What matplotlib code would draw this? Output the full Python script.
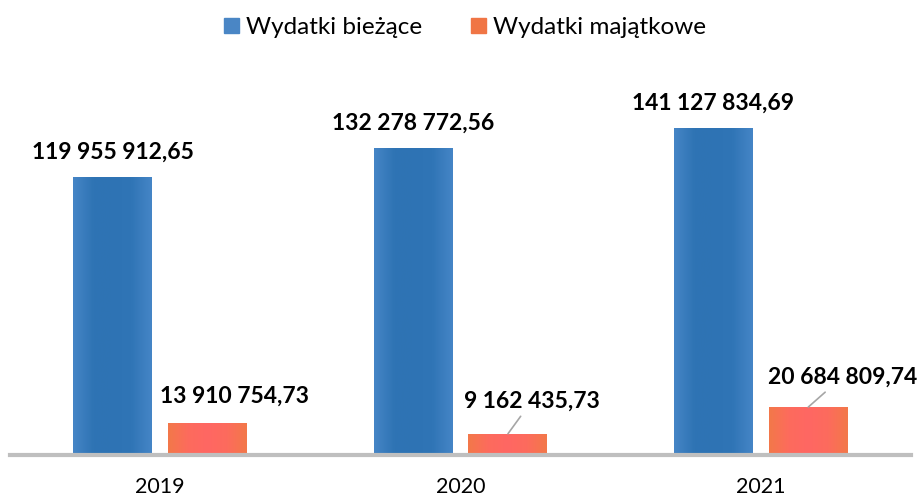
import numpy as np
import matplotlib
matplotlib.use("Agg")
import matplotlib.pyplot as plt
from matplotlib.colors import LinearSegmentedColormap
from matplotlib.patches import Patch

plt.rcParams['font.family'] = ['Lato', 'DejaVu Sans']

years = ['2019', '2020', '2021']
biezace = [119955912.65, 132278772.56, 141127834.69]
majatkowe = [13910754.73, 9162435.73, 20684809.74]
labels_b = ['119 955 912,65', '132 278 772,56', '141 127 834,69']
labels_m = ['13 910 754,73', '9 162 435,73', '20 684 809,74']
series_names = ['Wydatki bieżące', 'Wydatki majątkowe']

# label offsets for orange bars (pixels), leader line or not
off_m = [(27, 27), (24, 33), (34, 30)]
leader_m = [False, True, True]

fig = plt.figure(figsize=(9.21, 4.97), dpi=100)
ax = fig.add_axes([10 / 921, 42 / 497, 901 / 921, 394 / 497])

x = np.arange(len(years))
w = 0.263
d = 0.158

blue_cmap = LinearSegmentedColormap.from_list('b', ['#4585C6', '#2F74B4', '#2E73B4', '#3075B6', '#4585C6'])
orng_cmap = LinearSegmentedColormap.from_list('o', ['#F3784A', '#FD6B5D', '#FF6763', '#FD6B5D', '#F3784A'])

bars_b = ax.bar(x - d, biezace, w, color='#2E74B5', linewidth=0)
bars_m = ax.bar(x + d, majatkowe, w, color='#FB6E58', linewidth=0)

grad = np.linspace(0, 1, 64).reshape(1, -1)
for bars, cm in [(bars_b, blue_cmap), (bars_m, orng_cmap)]:
    for b in bars:
        x0, y0 = b.get_x(), b.get_y()
        im = ax.imshow(grad, cmap=cm, aspect='auto', interpolation='bicubic',
                       extent=[x0, x0 + b.get_width(), y0, y0 + b.get_height()], zorder=2)
        im.set_clip_path(b)

ax.set_xlim(-0.5, 2.5)
ax.set_ylim(0, 170e6)

for i, b in enumerate(bars_b):
    ax.annotate(labels_b[i], (b.get_x() + b.get_width() / 2, b.get_height()),
                xytext=(0, 25), textcoords='offset pixels', ha='center', va='center',
                fontsize=16.5, fontweight='bold', color='#000000')

for i, b in enumerate(bars_m):
    arrow = dict(arrowstyle='-', color='#A6A6A6', lw=1.2, shrinkA=2, shrinkB=0) if leader_m[i] else None
    ax.annotate(labels_m[i], (b.get_x() + b.get_width() / 2, b.get_height()),
                xytext=off_m[i], textcoords='offset pixels', ha='center', va='center',
                fontsize=16.5, fontweight='bold', color='#000000', arrowprops=arrow)

for s in ['top', 'right', 'left']:
    ax.spines[s].set_visible(False)
ax.spines['bottom'].set_color('#BFBFBF')
ax.spines['bottom'].set_linewidth(3)
ax.set_yticks([])
ax.set_xticks(x)
ax.set_xticklabels(years, fontsize=15.5)
ax.tick_params(axis='x', length=0, pad=16)

handles = [Patch(color='#4A86C5'), Patch(color='#F07545')]
fig.legend(handles, series_names, loc='center', bbox_to_anchor=(0.505, 0.944), ncol=2,
           frameon=False, fontsize=17.5, handlelength=0.6, handleheight=0.6,
           handletextpad=0.3, columnspacing=2.0)

fig.savefig('out.png', dpi=100)
